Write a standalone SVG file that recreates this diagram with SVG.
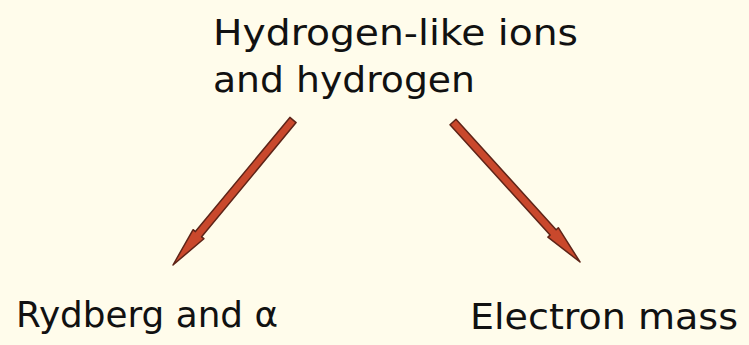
<svg xmlns="http://www.w3.org/2000/svg" width="749" height="345" viewBox="0 0 749 345">
  <style>
    .lbl { font-family: "Comic Sans MS", "DejaVu Sans", "Liberation Sans", sans-serif; font-size: 36px; fill: #111111; }
    .arrow { fill: #C9482C; stroke: #5E2418; stroke-width: 1.5; stroke-linejoin: round; }
  </style>
  <rect x="0" y="0" width="749" height="345" fill="#FFFCEB"/>
  <g id="node-top">
    <text class="lbl" x="213" y="45" textLength="365" lengthAdjust="spacingAndGlyphs">Hydrogen-like ions</text>
    <text class="lbl" x="213" y="92" textLength="262" lengthAdjust="spacingAndGlyphs">and hydrogen</text>
  </g>
  <g id="node-rydberg">
    <text class="lbl" x="16" y="327" textLength="262" lengthAdjust="spacingAndGlyphs">Rydberg and α</text>
  </g>
  <g id="node-electron">
    <text class="lbl" x="470" y="329" textLength="268" lengthAdjust="spacingAndGlyphs">Electron mass</text>
  </g>
  <g id="connectors">
    <polygon class="arrow" points="296.1,122.6 289.9,117.4 195.4,231.6 193.1,229.7 173,265 203.9,238.7 201.6,236.8"/>
    <polygon class="arrow" points="450.0,124.7 456.0,119.3 556.1,229.7 558.3,227.7 580,262 547.9,237.1 550.1,235.1"/>
  </g>
</svg>
